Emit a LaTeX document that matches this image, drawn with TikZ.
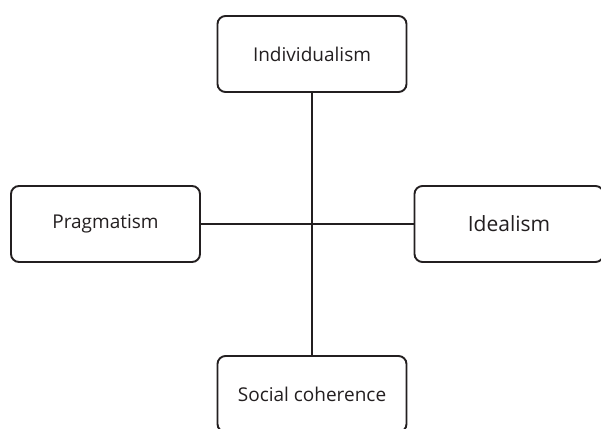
\documentclass[tikz,border=0pt]{standalone}
\usepackage{fontspec}
\setmainfont{Open Sans}
\definecolor{ink}{HTML}{231F20}
\begin{document}
\begin{tikzpicture}[x=1pt,y=-1pt,
  box/.style={draw=ink, line width=1.9pt, rounded corners=8pt, fill=white, text=ink,
    inner sep=0pt, minimum width=189pt, minimum height=76pt, font=\fontsize{19}{22}\selectfont},
  conn/.style={draw=ink, line width=2pt}]
\useasboundingbox (0,0) rectangle (601,428);
\node[box] (ind) at (312,54) {Individualism};
\node[box] (pra) at (105.5,224) {Pragmatism};
\node[box, font=\fontsize{21}{24}\selectfont] (ide) at (509,224) {Idealism};
\node[box] (soc) at (312,394) {Social coherence};
\draw[conn] (ind.south) -- (soc.north);
\draw[conn] (pra.east) -- (ide.west);
\end{tikzpicture}
\end{document}
